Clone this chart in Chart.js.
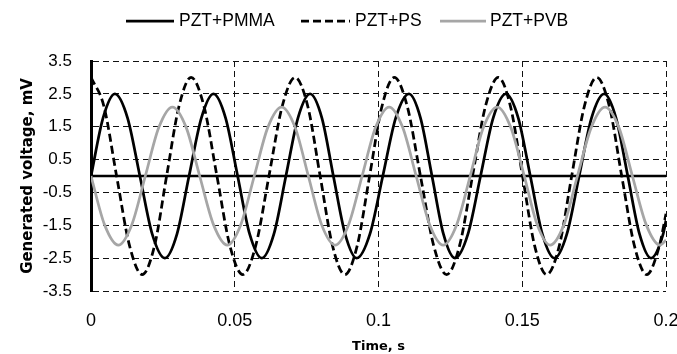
<!DOCTYPE html>
<html>
<head>
<meta charset="utf-8">
<script src="https://cdn.jsdelivr.net/npm/chart.js@4.4.1/dist/chart.umd.min.js"></script>
<style>
html,body{margin:0;padding:0;background:#fff;}
#wrap{width:677px;height:354px;}
</style>
</head>
<body>
<div id="wrap"><canvas id="c" width="677" height="354"></canvas></div>
<script>
// ---- data ----
const seriesNames = ['PZT+PMMA', 'PZT+PS', 'PZT+PVB'];

const tPMMA = [0,0.0042,0.0083,0.0127,0.0170,0.0213,0.0257,0.0299,0.0341,0.0384,0.0426,0.0468,0.0510,0.0552,0.0594,0.0636,0.0678,0.0720,0.0762,0.0803,0.0843,0.0884,0.0924,0.0970,0.1015,0.1060,0.1106,0.1146,0.1186,0.1226,0.1266,0.1311,0.1355,0.1399,0.1443,0.1486,0.1528,0.1570,0.1612,0.1655,0.1698,0.1741,0.1785,0.1826,0.1867,0.1908,0.1948,0.1990,0.2];
const vPMMA = [0,1.77,2.5,1.77,0,-1.77,-2.5,-1.77,0,1.77,2.5,1.77,0,-1.77,-2.5,-1.77,0,1.77,2.5,1.77,0,-1.77,-2.5,-1.77,0,1.77,2.5,1.77,0,-1.77,-2.5,-1.77,0,1.77,2.5,1.77,0,-1.77,-2.5,-1.77,0,1.77,2.5,1.77,0,-1.77,-2.5,-1.77,-1.35];

const tPS = [0,0.0045,0.0089,0.0134,0.0178,0.0221,0.0263,0.0306,0.0348,0.0393,0.0438,0.0483,0.0528,0.0573,0.0619,0.0665,0.0710,0.0754,0.0797,0.0840,0.0883,0.0926,0.0969,0.1012,0.1055,0.1100,0.1146,0.1192,0.1237,0.1282,0.1327,0.1372,0.1417,0.1459,0.1501,0.1543,0.1585,0.1629,0.1672,0.1716,0.1759,0.1803,0.1846,0.1890,0.1933,0.1977,0.2];
const vPS = [3,2.12,0,-2.12,-3,-2.12,0,2.12,3,2.12,0,-2.12,-3,-2.12,0,2.12,3,2.12,0,-2.12,-3,-2.12,0,2.12,3,2.12,0,-2.12,-3,-2.12,0,2.12,3,2.12,0,-2.12,-3,-2.12,0,2.12,3,2.12,0,-2.12,-3,-2.12,-1.15];

const tPVB = [0,0.0047,0.0095,0.0142,0.0189,0.0236,0.0283,0.0331,0.0378,0.0426,0.0474,0.0521,0.0568,0.0615,0.0663,0.0710,0.0756,0.0802,0.0849,0.0896,0.0943,0.0990,0.1037,0.1084,0.1131,0.1178,0.1225,0.1272,0.1319,0.1365,0.1413,0.1460,0.1507,0.1552,0.1597,0.1645,0.1692,0.1740,0.1788,0.1836,0.1883,0.1931,0.1979,0.2];
const vPVB = [0,-1.48,-2.1,-1.48,0,1.48,2.1,1.48,0,-1.48,-2.1,-1.48,0,1.48,2.1,1.48,0,-1.48,-2.1,-1.48,0,1.48,2.1,1.48,0,-1.48,-2.1,-1.48,0,1.48,2.1,1.48,0,-1.48,-2.1,-1.48,0,1.48,2.1,1.48,0,-1.48,-2.1,-1.95];

const xTicks = [0, 0.05, 0.1, 0.15, 0.2];
const xTickLabels = ['0', '0.05', '0.1', '0.15', '0.2'];
const yTicks = [-3.5, -2.5, -1.5, -0.5, 0.5, 1.5, 2.5, 3.5];
const yTickLabels = ['-3.5', '-2.5', '-1.5', '-0.5', '0.5', '1.5', '2.5', '3.5'];
const xTitle = 'Time, s';
const yTitle = 'Generated voltage, mV';

// ---- helpers ----
const pts = (ts, vs) => ts.map((t, i) => ({x: t, y: vs[i]}));
const SANS = "'Liberation Sans', Arial, sans-serif";

const zeroLine = {
  id: 'zeroLine',
  beforeDatasetsDraw(chart) {
    const {ctx, chartArea, scales} = chart;
    const y = scales.y.getPixelForValue(0);
    ctx.save();
    ctx.strokeStyle = '#000';
    ctx.lineWidth = 2.5;
    ctx.beginPath();
    ctx.moveTo(chartArea.left, y);
    ctx.lineTo(chartArea.right, y);
    ctx.stroke();
    ctx.restore();
  }
};

const customLegend = {
  id: 'customLegend',
  afterDraw(chart) {
    const ctx = chart.ctx;
    const pos = [[126, 174, 179], [301, 350, 355], [440, 486, 490]];
    const yc = 21;
    ctx.save();
    chart.data.datasets.forEach((ds, i) => {
      const p = pos[i];
      ctx.strokeStyle = ds.borderColor;
      ctx.lineWidth = ds.borderWidth;
      ctx.setLineDash(ds.borderDash || []);
      ctx.beginPath();
      ctx.moveTo(p[0], yc);
      ctx.lineTo(p[1], yc);
      ctx.stroke();
      ctx.setLineDash([]);
      ctx.fillStyle = '#000';
      ctx.font = '17.5px ' + SANS;
      ctx.textBaseline = 'middle';
      ctx.textAlign = 'left';
      ctx.fillText(ds.label, p[2], yc);
    });
    ctx.restore();
  }
};

new Chart(document.getElementById('c'), {
  type: 'line',
  data: {
    datasets: [
      {label: seriesNames[0], data: pts(tPMMA, vPMMA), borderColor: '#000000', borderWidth: 2.75, order: 3},
      {label: seriesNames[1], data: pts(tPS, vPS), borderColor: '#000000', borderWidth: 2.75, borderDash: [8, 4], order: 2},
      {label: seriesNames[2], data: pts(tPVB, vPVB), borderColor: '#A6A6A6', borderWidth: 2.75, order: 1}
    ]
  },
  options: {
    responsive: false,
    animation: false,
    devicePixelRatio: 1,
    elements: {
      point: {radius: 0, hoverRadius: 0},
      line: {cubicInterpolationMode: 'monotone', fill: false, borderCapStyle: 'butt'}
    },
    layout: {padding: {top: 61, right: 11, left: 0, bottom: 0}},
    plugins: {
      legend: {display: false},
      tooltip: {enabled: false}
    },
    scales: {
      x: {
        type: 'linear',
        min: 0, max: 0.2,
        afterBuildTicks(scale) { scale.ticks = xTicks.map(v => ({value: v})); },
        afterFit(scale) { scale.height = 63; scale.paddingLeft = 0; scale.paddingRight = 0; },
        ticks: {
          callback: (v, i) => xTickLabels[i],
          font: {family: SANS, size: 18},
          color: '#000',
          padding: 19,
          maxRotation: 0,
          autoSkip: false
        },
        grid: {
          color: '#111',
          lineWidth: 1,
          drawTicks: false
        },
        border: {display: false, dash: [6, 4]},
        title: {
          display: true,
          text: xTitle,
          font: {family: "'DejaVu Sans', Verdana, sans-serif", size: 13, weight: 'bold'},
          color: '#000',
          padding: {top: 0, bottom: 0}
        }
      },
      y: {
        type: 'linear',
        min: -3.5, max: 3.5,
        afterBuildTicks(scale) { scale.ticks = yTicks.map(v => ({value: v})); },
        afterFit(scale) { scale.width = 91; scale.paddingTop = 0; scale.paddingBottom = 0; },
        ticks: {
          callback: (v, i) => yTickLabels[i],
          font: {family: SANS, size: 17},
          color: '#000',
          padding: 19,
          autoSkip: false
        },
        grid: {
          color: '#111',
          lineWidth: 1,
          drawTicks: false
        },
        border: {display: true, color: '#000', width: 3, dash: [6, 4]},
        title: {
          display: true,
          text: yTitle,
          font: {family: "'DejaVu Sans', Verdana, sans-serif", size: 15, weight: 'bold'},
          color: '#000',
          padding: {top: 19, bottom: 0}
        }
      }
    }
  },
  plugins: [zeroLine, customLegend]
});
</script>
</body>
</html>
